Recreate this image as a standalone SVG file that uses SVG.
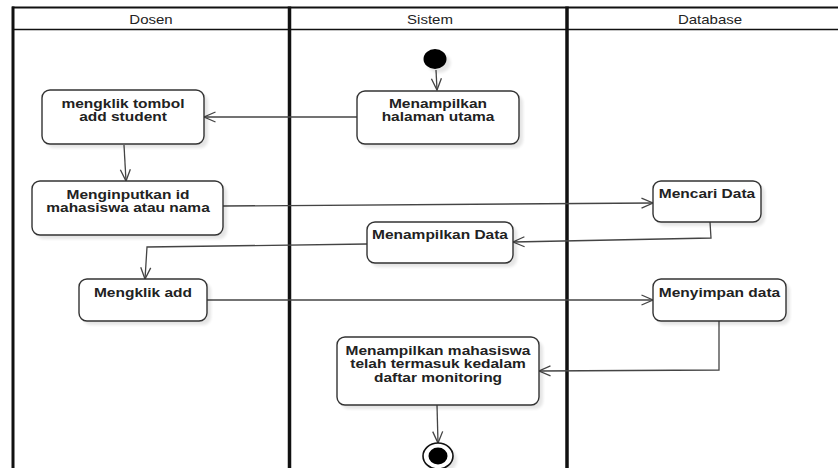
<svg xmlns="http://www.w3.org/2000/svg" width="838" height="468" viewBox="0 0 838 468">
  <style>
    .lane { stroke: #111; fill: none; }
    .hdr { font-family: "Liberation Sans", Arial, sans-serif; font-size: 15px; fill: #222; text-anchor: middle; }
    .node rect.box { fill: #fff; stroke: #333; stroke-width: 1.4; }
    .node rect.shadow { fill: #000; opacity: 0.1; filter: url(#soft); }
    .lbl { font-family: "Liberation Sans", Arial, sans-serif; font-size: 15.5px; font-weight: bold; fill: #222; text-anchor: middle; }
    .conn path { fill: none; stroke: #444; stroke-width: 1.3; marker-end: url(#open); }
  </style>
  <defs>
    <filter id="soft" x="-20%" y="-20%" width="140%" height="140%">
      <feGaussianBlur stdDeviation="1.5"/>
    </filter>
    <marker id="open" markerUnits="userSpaceOnUse" markerWidth="14" markerHeight="12" refX="12.5" refY="6" viewBox="0 0 14 12" orient="auto">
      <path d="M1,1 L12.5,6 L1,11" fill="none" stroke="#444" stroke-width="1.3"/>
    </marker>
  </defs>

  <rect width="838" height="468" fill="#fff"/>

  <!-- swimlane frame -->
  <g id="lanes">
    <line class="lane" x1="12" y1="7.5" x2="838" y2="7.5" stroke-width="2"/>
    <line class="lane" x1="12" y1="29.5" x2="838" y2="29.5" stroke-width="1.6"/>
    <line class="lane" x1="13" y1="6.5" x2="13" y2="468" stroke-width="3"/>
    <line class="lane" x1="289.5" y1="6.5" x2="289.5" y2="468" stroke-width="3.5"/>
    <line class="lane" x1="567" y1="6.5" x2="567" y2="468" stroke-width="3.5"/>
    <text class="hdr" transform="translate(151,23.5) scale(1,0.85)">Dosen</text>
    <text class="hdr" transform="translate(430,23.5) scale(1,0.85)">Sistem</text>
    <text class="hdr" transform="translate(710,23.5) scale(1,0.85)">Database</text>
  </g>

  <!-- connectors -->
  <g id="connectors" class="conn">
    <path d="M436,70 L437,90"/>
    <path d="M357,117 L204,117"/>
    <path d="M124,145 L126,181"/>
    <path d="M223,206 L653,203"/>
    <path d="M710,222 L711,238 L513,242"/>
    <path d="M367,244 L147,247 L145,279"/>
    <path d="M207,300 L653,300"/>
    <path d="M719,321 L719,370 L539,371"/>
    <path d="M437,405 L438,443"/>
  </g>

  <!-- start -->
  <g id="start">
    <ellipse cx="439" cy="63" rx="11.5" ry="10" fill="#000" opacity="0.1" filter="url(#soft)"/>
    <ellipse cx="435" cy="59" rx="11.5" ry="10" fill="#000"/>
  </g>

  <!-- Dosen lane -->
  <g id="klik-add-student" class="node">
    <rect class="shadow" x="46" y="94" width="162" height="54" rx="8"/>
    <rect class="box" x="42" y="90" width="162" height="54" rx="8"/>
    <text class="lbl" transform="translate(123,108) scale(1,0.86)"><tspan x="0" y="0">mengklik tombol</tspan><tspan x="0" y="14.6">add student</tspan></text>
  </g>
  <g id="input-id" class="node">
    <rect class="shadow" x="36" y="185" width="191" height="54" rx="8"/>
    <rect class="box" x="32" y="181" width="191" height="54" rx="8"/>
    <text class="lbl" transform="translate(128,199) scale(1,0.86)"><tspan x="0" y="0">Menginputkan id</tspan><tspan x="0" y="14.6">mahasiswa atau nama</tspan></text>
  </g>
  <g id="klik-add" class="node">
    <rect class="shadow" x="83" y="283" width="128" height="42" rx="8"/>
    <rect class="box" x="79" y="279" width="128" height="42" rx="8"/>
    <text class="lbl" transform="translate(143,297) scale(1,0.86)">Mengklik add</text>
  </g>

  <!-- Sistem lane -->
  <g id="halaman-utama" class="node">
    <rect class="shadow" x="361" y="95" width="162" height="53" rx="8"/>
    <rect class="box" x="357" y="91" width="162" height="53" rx="8"/>
    <text class="lbl" transform="translate(438,108) scale(1,0.86)"><tspan x="0" y="0">Menampilkan</tspan><tspan x="0" y="15.1">halaman utama</tspan></text>
  </g>
  <g id="tampil-data" class="node">
    <rect class="shadow" x="371" y="226" width="146" height="41" rx="8"/>
    <rect class="box" x="367" y="222" width="146" height="41" rx="8"/>
    <text class="lbl" transform="translate(440,239) scale(1,0.86)">Menampilkan Data</text>
  </g>
  <g id="tampil-mahasiswa" class="node">
    <rect class="shadow" x="341" y="341" width="202" height="68" rx="8"/>
    <rect class="box" x="337" y="337" width="202" height="68" rx="8"/>
    <text class="lbl" transform="translate(438,355) scale(1,0.86)"><tspan x="0" y="0">Menampilkan mahasiswa</tspan><tspan x="0" y="15.2">telah termasuk kedalam</tspan><tspan x="0" y="31">daftar monitoring</tspan></text>
  </g>

  <!-- Database lane -->
  <g id="cari-data" class="node">
    <rect class="shadow" x="657" y="185" width="108" height="41" rx="8"/>
    <rect class="box" x="653" y="181" width="108" height="41" rx="8"/>
    <text class="lbl" transform="translate(707,198) scale(1,0.86)">Mencari Data</text>
  </g>
  <g id="simpan-data" class="node">
    <rect class="shadow" x="657" y="283" width="133" height="42" rx="8"/>
    <rect class="box" x="653" y="279" width="133" height="42" rx="8"/>
    <text class="lbl" transform="translate(719.5,297) scale(1,0.86)">Menyimpan data</text>
  </g>

  <!-- end -->
  <g id="end">
    <ellipse cx="442" cy="460" rx="15" ry="13" fill="#000" opacity="0.1" filter="url(#soft)"/>
    <ellipse cx="438" cy="456" rx="15" ry="13" fill="#fff" stroke="#111" stroke-width="1.6"/>
    <ellipse cx="438" cy="456" rx="9.5" ry="8.5" fill="#000"/>
  </g>
</svg>
